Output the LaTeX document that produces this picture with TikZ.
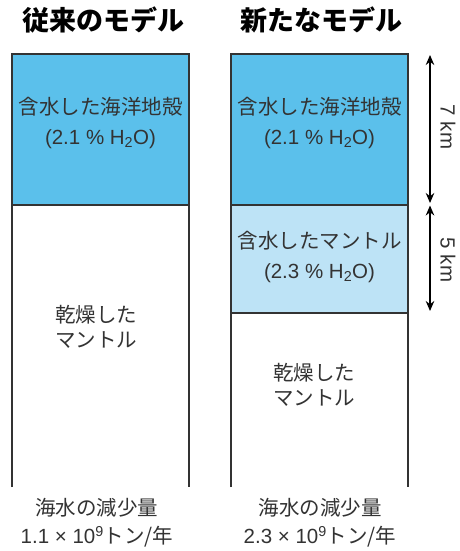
\documentclass[tikz,border=0pt]{standalone}
\usepackage{fontspec}
\setmainfont{Noto Sans CJK JP}
\newfontfamily\lat{Liberation Sans}
\usetikzlibrary{arrows.meta}
\definecolor{crust}{HTML}{5BC0EB}
\definecolor{wetmantle}{HTML}{BDE3F6}
\definecolor{edge}{HTML}{333333}
\definecolor{txt}{HTML}{333333}
\tikzset{
  wall/.style={draw=edge, line width=2pt},
  lbl/.style={text=txt, font=\fontsize{20.5}{25}\selectfont, align=center, inner sep=0pt},
  ttl/.style={text=black, font=\fontsize{27}{30}\selectfont\bfseries, inner sep=0pt},
  dim/.style={draw=black, line width=1.4pt, {Stealth[length=10pt,width=8.5pt]}-{Stealth[length=10pt,width=8.5pt]}},
}
\begin{document}
\begin{tikzpicture}[x=1pt,y=-1pt]
\useasboundingbox[fill=white] (0,0) rectangle (460,551);
% layers
\fill[crust] (12,54) rectangle (189,205);
\fill[crust] (231,54) rectangle (408,205);
\fill[wetmantle] (231,205) rectangle (408,313);
% walls
\draw[wall] (12,487) -- (12,54) -- (189,54) -- (189,487);
\draw[wall] (12,205) -- (189,205);
\draw[wall] (231,487) -- (231,54) -- (408,54) -- (408,487);
\draw[wall] (231,205) -- (408,205);
\draw[wall] (231,313) -- (408,313);
% titles
\node[ttl] (t1) at (103,20) {従来のモデル};
\node[ttl] (t2) at (321,20) {新たなモデル};
% labels
\node[lbl] (c1) at (100.5,123) {含水した海洋地殻\\[5pt]{\lat (2.1 \% H\textsubscript{2}O)}};
\node[lbl] (c2) at (319.5,123) {含水した海洋地殻\\[5pt]{\lat (2.1 \% H\textsubscript{2}O)}};
\node[lbl] (m2) at (319.5,257) {含水したマントル\\[5pt]{\lat (2.3 \% H\textsubscript{2}O)}};
\node[lbl] (d1) at (96,327) {乾燥した\\マントル};
\node[lbl] (d2) at (314,385) {乾燥した\\マントル};
\node[lbl] (r1) at (97,523) {海水の減少量\\[3pt]{\lat 1.1 × 10\textsuperscript{9}}トン/年};
\node[lbl] (r2) at (320,523) {海水の減少量\\[3pt]{\lat 2.3 × 10\textsuperscript{9}}トン/年};
% dimension arrows
\coordinate (a1) at (430,55);
\coordinate (a2) at (430,203);
\coordinate (a3) at (430,205.5);
\coordinate (a4) at (430,311);
\draw[dim] (a1) -- (a2);
\draw[dim] (a3) -- (a4);
\node[lbl, rotate=-90] (k7) at (448,127) {\lat 7 km};
\node[lbl, rotate=-90] (k5) at (448,260) {\lat 5 km};
\end{tikzpicture}
\end{document}
